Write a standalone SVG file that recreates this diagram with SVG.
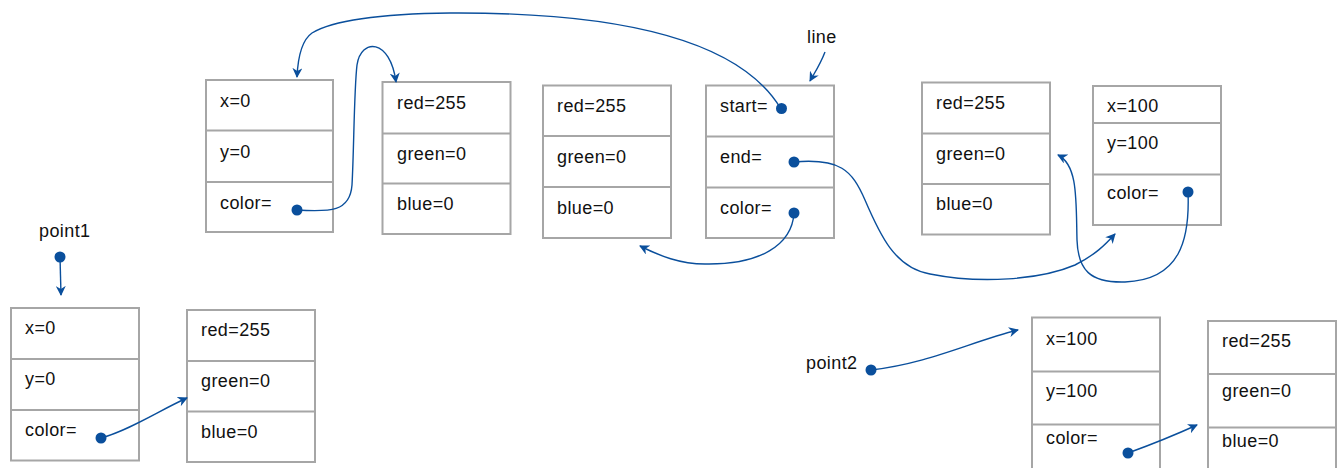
<svg xmlns="http://www.w3.org/2000/svg" width="1337" height="468" viewBox="0 0 1337 468">
<defs>
<style>
.box rect{fill:#fff;stroke:#a6a6a6;stroke-width:2}
.box line{stroke:#a6a6a6;stroke-width:2}
text{font-family:"Liberation Sans",Arial,sans-serif;font-size:18px;letter-spacing:0.4px;fill:#111}
.dot{fill:#0a4f9c}
#connectors path{fill:none;stroke:#0a4f9c;stroke-width:1.4;marker-end:url(#arr)}
</style>
<marker id="arr" viewBox="0 0 10 10" refX="9" refY="5" markerWidth="10" markerHeight="10" markerUnits="userSpaceOnUse" orient="auto">
<path d="M0,0 L10,5 L0,10 L3,5 z" fill="#0a4f9c"/>
</marker>
</defs>

<g id="pointA" class="box">
<rect x="206" y="80" width="127" height="152"/>
<line x1="206" y1="130.5" x2="333" y2="130.5"/>
<line x1="206" y1="182" x2="333" y2="182"/>
<text x="220" y="107">x=0</text>
<text x="220" y="158">y=0</text>
<text x="220" y="209">color=</text>
</g>

<g id="colorB" class="box">
<rect x="382.5" y="82" width="128" height="152"/>
<line x1="382.5" y1="133.5" x2="510.5" y2="133.5"/>
<line x1="382.5" y1="183.5" x2="510.5" y2="183.5"/>
<text x="397" y="109">red=255</text>
<text x="397" y="160">green=0</text>
<text x="397" y="210">blue=0</text>
</g>

<g id="colorC" class="box">
<rect x="543" y="85.5" width="128" height="152.5"/>
<line x1="543" y1="136" x2="671" y2="136"/>
<line x1="543" y1="187" x2="671" y2="187"/>
<text x="557" y="112">red=255</text>
<text x="557" y="163">green=0</text>
<text x="557" y="214">blue=0</text>
</g>

<g id="lineD" class="box">
<rect x="706" y="85.5" width="128" height="152.5"/>
<line x1="706" y1="136.5" x2="834" y2="136.5"/>
<line x1="706" y1="187.5" x2="834" y2="187.5"/>
<text x="720" y="112">start=</text>
<text x="720" y="163">end=</text>
<text x="720" y="214">color=</text>
</g>

<g id="colorE" class="box">
<rect x="922" y="82.5" width="128" height="152"/>
<line x1="922" y1="133.5" x2="1050" y2="133.5"/>
<line x1="922" y1="184" x2="1050" y2="184"/>
<text x="936" y="109">red=255</text>
<text x="936" y="160">green=0</text>
<text x="936" y="210">blue=0</text>
</g>

<g id="pointF" class="box">
<rect x="1093" y="86" width="128" height="139"/>
<line x1="1093" y1="123" x2="1221" y2="123"/>
<line x1="1093" y1="174.5" x2="1221" y2="174.5"/>
<text x="1107" y="112">x=100</text>
<text x="1107" y="149">y=100</text>
<text x="1107" y="199">color=</text>
</g>

<g id="pointG" class="box">
<rect x="11" y="308" width="128" height="152.5"/>
<line x1="11" y1="359" x2="139" y2="359"/>
<line x1="11" y1="410" x2="139" y2="410"/>
<text x="25" y="334">x=0</text>
<text x="25" y="385">y=0</text>
<text x="25" y="436">color=</text>
</g>

<g id="colorH" class="box">
<rect x="187" y="310" width="128" height="152"/>
<line x1="187" y1="361" x2="315" y2="361"/>
<line x1="187" y1="411.5" x2="315" y2="411.5"/>
<text x="201" y="336">red=255</text>
<text x="201" y="387">green=0</text>
<text x="201" y="438">blue=0</text>
</g>

<g id="pointI" class="box">
<rect x="1032" y="317.5" width="128" height="160"/>
<line x1="1032" y1="371.5" x2="1160" y2="371.5"/>
<line x1="1032" y1="424.5" x2="1160" y2="424.5"/>
<text x="1046" y="345">x=100</text>
<text x="1046" y="397">y=100</text>
<text x="1046" y="444">color=</text>
</g>

<g id="colorJ" class="box">
<rect x="1208" y="321" width="128" height="160"/>
<line x1="1208" y1="374" x2="1336" y2="374"/>
<line x1="1208" y1="427.5" x2="1336" y2="427.5"/>
<text x="1222" y="347">red=255</text>
<text x="1222" y="397">green=0</text>
<text x="1222" y="447">blue=0</text>
</g>

<g id="labels">
<text x="807" y="43">line</text>
<text x="39" y="237">point1</text>
<text x="806" y="369">point2</text>
</g>

<g id="connectors">
<path d="M781,109 C740,40 620,12 450,13 C370,14 330,22 312,33 C302,40 298,55 297,77"/>
<path d="M297,210 C330,212 350,212 352,185 C354,150 354,90 357,65 C361,38 390,38 396,82"/>
<path d="M794,213 C792,245 760,265 705,264 C680,264 660,256 640,246"/>
<path d="M794,162 C840,158 852,170 865,200 C880,235 895,268 930,274 C980,284 1040,280 1075,265 C1095,255 1105,245 1115,234"/>
<path d="M1188,192 C1190,240 1180,280 1125,282 C1090,283 1078,270 1077,240 C1076,200 1078,165 1058,155"/>
<path d="M60,257 L61,295"/>
<path d="M101,438 C130,430 160,410 187,398"/>
<path d="M825,52 C820,65 815,72 810,81"/>
<path d="M871,370 C930,363 970,342 1018,330"/>
<path d="M1128,453 C1150,445 1175,435 1197,425"/>
</g>

<g id="dots" class="dot">
<circle cx="297" cy="210" r="5.5"/>
<circle cx="781.5" cy="108.5" r="5.5"/>
<circle cx="794" cy="162" r="5.5"/>
<circle cx="794" cy="213" r="5.5"/>
<circle cx="1188" cy="192" r="5.5"/>
<circle cx="60" cy="257" r="5.5"/>
<circle cx="101" cy="438" r="5.5"/>
<circle cx="871" cy="370" r="5.5"/>
<circle cx="1128" cy="453" r="5.5"/>
</g>
</svg>
